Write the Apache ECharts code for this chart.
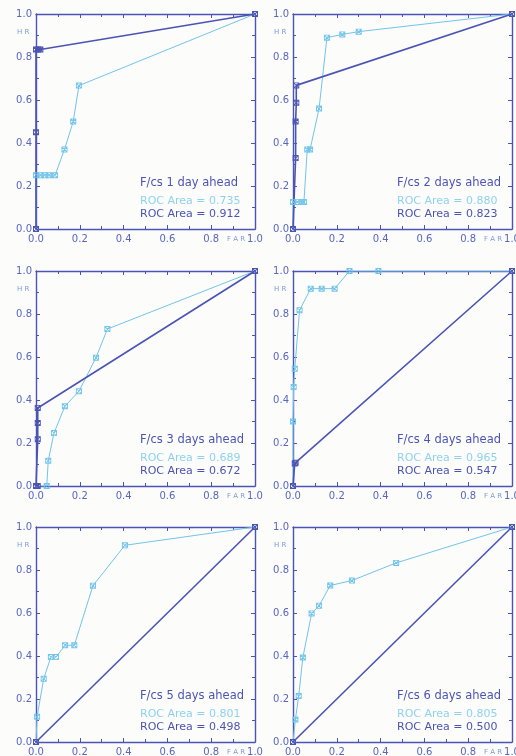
<!DOCTYPE html>
<html>
<head>
<meta charset="utf-8">
<script src="https://cdn.jsdelivr.net/npm/echarts@6/dist/echarts.min.js"></script>
<style>
  html, body { margin: 0; padding: 0; background: #fcfcfb; }
  #chart { width: 516px; height: 756px; }
</style>
</head>
<body>
<div id="chart"></div>
<script>
// ROC curves, points are [FAR, HR]
const light1 = [[0, 0], [0, 0.25], [0.02, 0.25], [0.04, 0.25], [0.06, 0.25], [0.087, 0.25], [0.13, 0.37], [0.17, 0.5], [0.196, 0.667], [1, 1]];
const dark1 = [[0, 0], [0, 0.45], [0, 0.835], [0.01, 0.835], [0.02, 0.835], [1, 1]];
const light2 = [[0, 0], [0, 0.126], [0.02, 0.126], [0.04, 0.126], [0.05, 0.126], [0.065, 0.37], [0.078, 0.37], [0.119, 0.56], [0.155, 0.89], [0.225, 0.905], [0.3, 0.918], [1, 1]];
const dark2 = [[0, 0], [0.012, 0.33], [0.012, 0.5], [0.015, 0.587], [0.015, 0.668], [1, 1]];
const light3 = [[0, 0], [0.049, 0], [0.056, 0.117], [0.082, 0.246], [0.132, 0.371], [0.196, 0.441], [0.274, 0.597], [0.326, 0.73], [1, 1]];
const dark3 = [[0, 0], [0.008, 0], [0.008, 0.218], [0.008, 0.293], [0.008, 0.363], [1, 1]];
const light4 = [[0, 0], [0, 0.3], [0.003, 0.46], [0.008, 0.545], [0.03, 0.818], [0.081, 0.918], [0.131, 0.918], [0.19, 0.918], [0.258, 1], [0.39, 1], [1, 1]];
const dark4 = [[0, 0], [0.008, 0.105], [0.012, 0.108], [1, 1]];
const light5 = [[0, 0], [0.005, 0.117], [0.035, 0.294], [0.068, 0.395], [0.091, 0.395], [0.133, 0.45], [0.175, 0.45], [0.26, 0.727], [0.406, 0.915], [1, 1]];
const dark5 = [[0, 0], [1, 1]];
const light6 = [[0, 0], [0.011, 0.105], [0.026, 0.214], [0.045, 0.393], [0.085, 0.598], [0.119, 0.634], [0.17, 0.728], [0.269, 0.751], [0.471, 0.833], [1, 1]];
const dark6 = [[0, 0], [1, 1]];

const lightCurves = [light1, light2, light3, light4, light5, light6];
const darkCurves = [dark1, dark2, dark3, dark4, dark5, dark6];
const panelTitles = ['F/cs 1 day ahead', 'F/cs 2 days ahead', 'F/cs 3 days ahead',
  'F/cs 4 days ahead', 'F/cs 5 days ahead', 'F/cs 6 days ahead'];
const rocLight = ['0.735', '0.880', '0.689', '0.965', '0.801', '0.805'];
const rocDark = ['0.912', '0.823', '0.672', '0.547', '0.498', '0.500'];

const DARK = '#4b54b4';
const LIGHT = '#72c4ea';
const LABEL = '#5866c0';
const FONT = 'DejaVu Sans';

// panel boxes
const cols = [36, 293];
const rows = [14, 271, 527];
const W = 219, H = 215;

const mark = 'path://M0,0H10V10H0Z M1.5,1.5V8.5H8.5V1.5Z M1,2L2,1L9,8L8,9Z M8,1L9,2L2,9L1,8Z';

const grids = [], xAxes = [], yAxes = [], series = [], texts = [];

function axisBase(pos, labels) {
  return {
    type: 'value', min: 0, max: 1, interval: 0.2, position: pos,
    axisLine: { show: true, onZero: false, lineStyle: { color: DARK, width: 1.4 } },
    axisTick: { show: true, inside: true, length: 4, lineStyle: { color: DARK, width: 1 } },
    minorTick: { show: true, splitNumber: 2, length: 3, lineStyle: { color: DARK, width: 1 } },
    splitLine: { show: false },
    axisLabel: {
      show: labels, color: LABEL, fontSize: 10, fontFamily: FONT,
      margin: pos === 'left' ? 4 : 5,
      formatter: v => v.toFixed(1)
    }
  };
}

for (let i = 0; i < 6; i++) {
  const left = cols[i % 2];
  const top = rows[Math.floor(i / 2)];
  grids.push({ left: left, top: top, width: W, height: H, outerBoundsMode: 'none', containLabel: false });
  xAxes.push(Object.assign(axisBase('bottom', true), { gridIndex: i }));
  xAxes.push(Object.assign(axisBase('top', false), { gridIndex: i }));
  yAxes.push(Object.assign(axisBase('left', true), { gridIndex: i }));
  yAxes.push(Object.assign(axisBase('right', false), { gridIndex: i }));

  series.push({
    type: 'line', xAxisIndex: 2 * i, yAxisIndex: 2 * i,
    data: lightCurves[i], symbol: mark, symbolSize: 6,
    lineStyle: { color: LIGHT, width: 1 }, itemStyle: { color: LIGHT },
    animation: false
  });
  series.push({
    type: 'line', xAxisIndex: 2 * i, yAxisIndex: 2 * i,
    data: darkCurves[i], symbol: mark, symbolSize: 6,
    lineStyle: { color: DARK, width: 1.6 }, itemStyle: { color: DARK },
    animation: false
  });

  const tx = left + 104;
  texts.push({ type: 'text', style: { text: panelTitles[i], x: tx, y: top + 169, fill: DARK, fontSize: 11.5, fontFamily: FONT, verticalAlign: 'middle' } });
  texts.push({ type: 'text', style: { text: 'ROC Area = ' + rocLight[i], x: tx, y: top + 187, fill: '#8fd2f0', fontSize: 11, fontFamily: FONT, verticalAlign: 'middle' } });
  texts.push({ type: 'text', style: { text: 'ROC Area = ' + rocDark[i], x: tx, y: top + 200, fill: DARK, fontSize: 11, fontFamily: FONT, verticalAlign: 'middle' } });
  texts.push({ type: 'text', style: { text: 'H R', x: left - 19, y: top + 18, fill: '#7f9ad8', fontSize: 7, fontFamily: FONT, verticalAlign: 'middle' } });
  texts.push({ type: 'text', style: { text: 'F A R', x: left + 191, y: top + H + 10, fill: '#7f9ad8', fontSize: 7, fontFamily: FONT, verticalAlign: 'middle' } });
}

const chart = echarts.init(document.getElementById('chart'), null, { renderer: 'canvas' });
chart.setOption({
  backgroundColor: '#fcfcfb',
  animation: false,
  grid: grids,
  xAxis: xAxes,
  yAxis: yAxes,
  series: series,
  graphic: texts
});
</script>
</body>
</html>
